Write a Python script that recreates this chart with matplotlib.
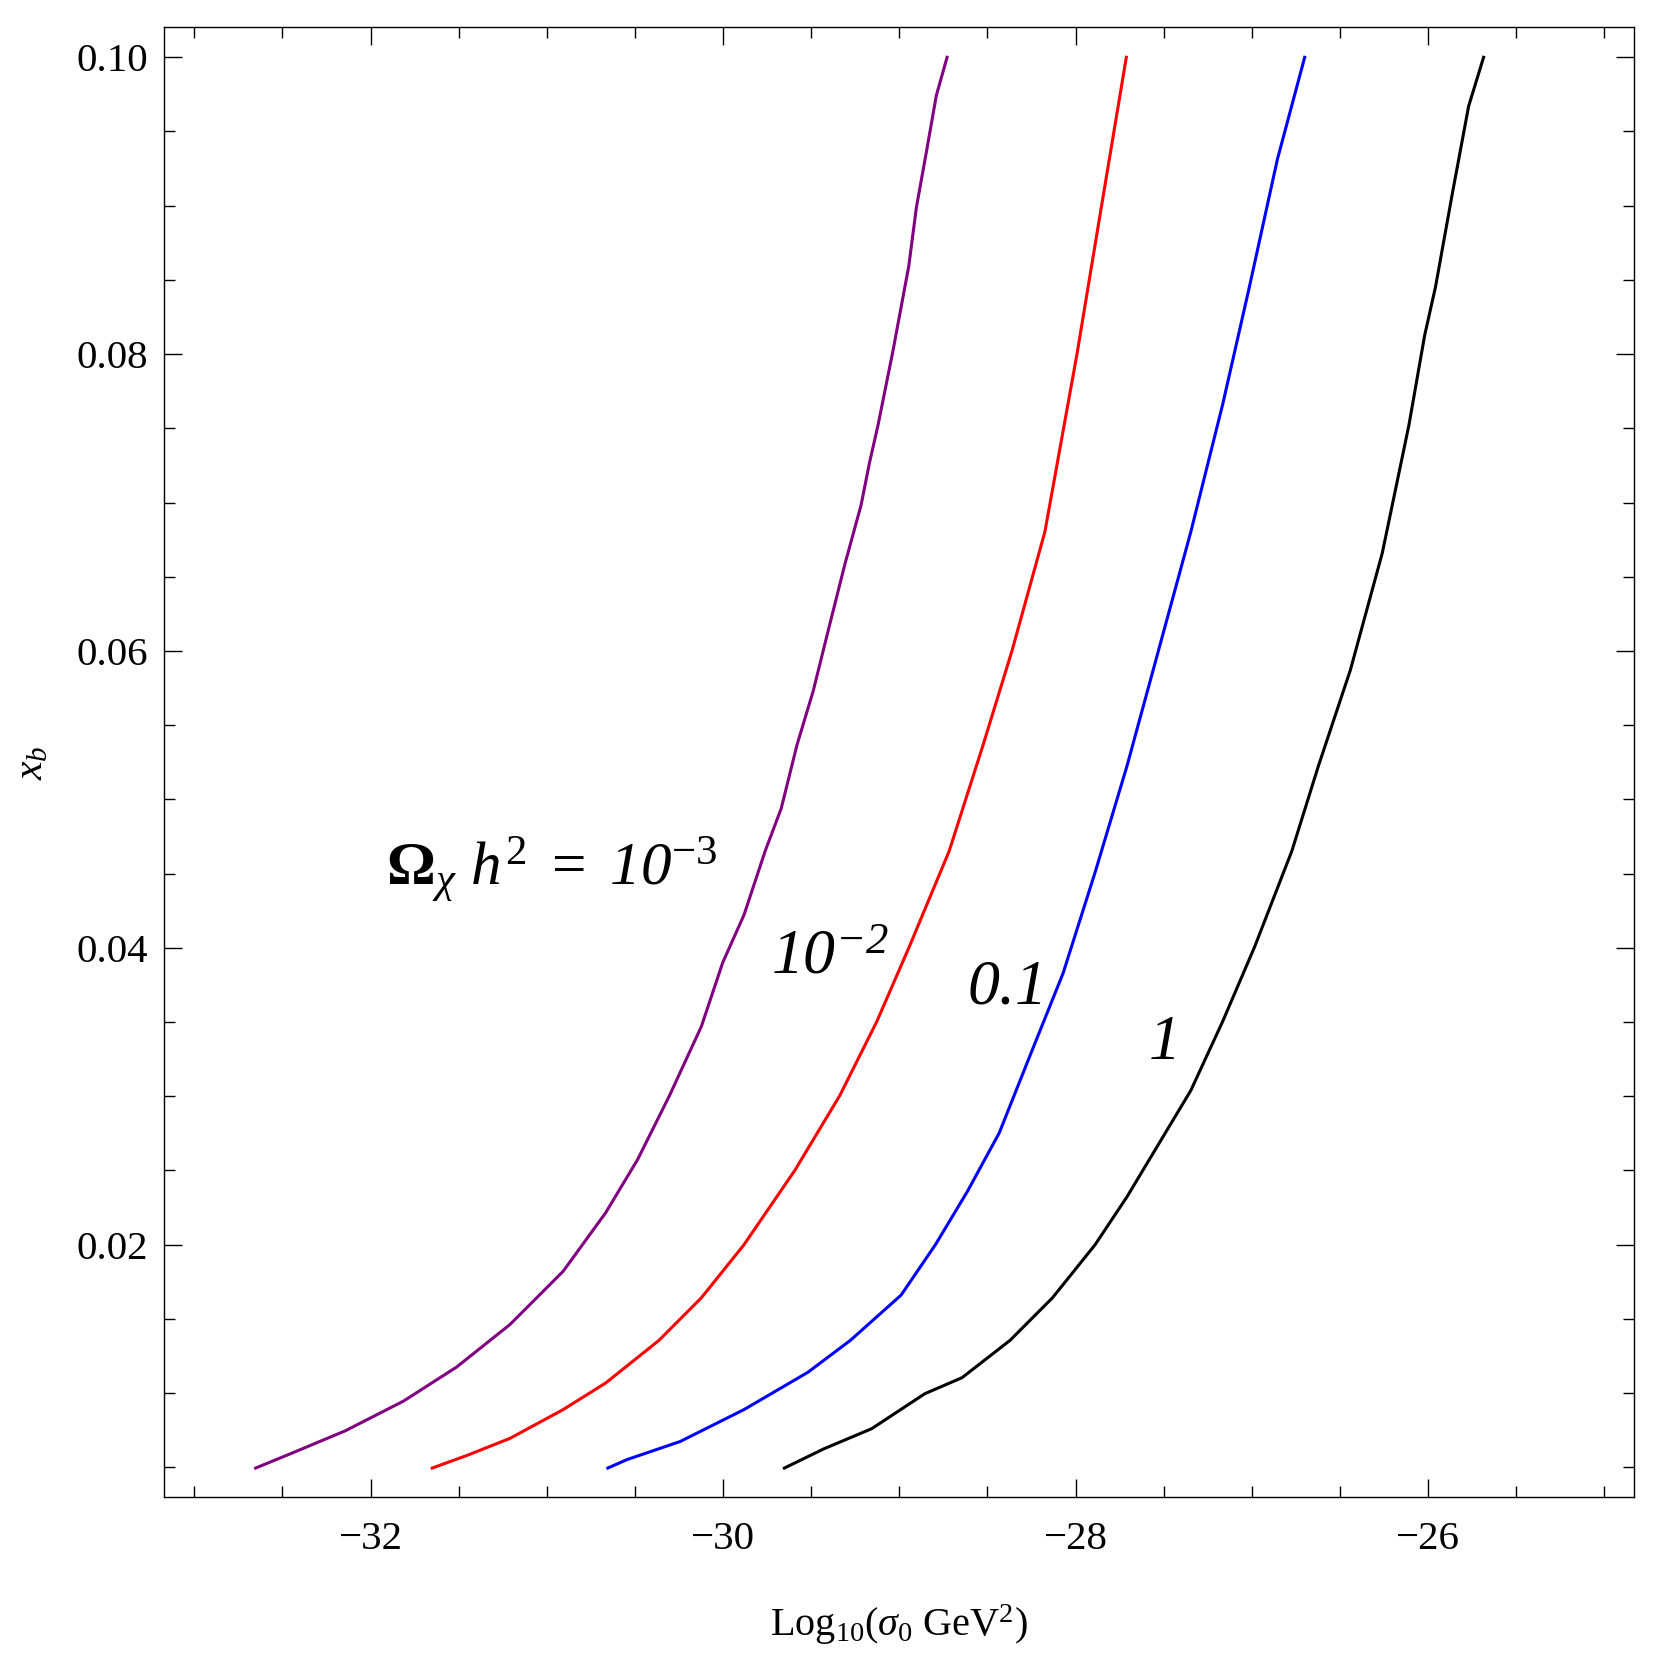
import matplotlib
matplotlib.use('Agg')
import matplotlib.pyplot as plt
from matplotlib.ticker import MultipleLocator, FormatStrFormatter

plt.rcParams['font.family'] = 'serif'
plt.rcParams['font.serif'] = ['Liberation Serif', 'DejaVu Serif']
plt.rcParams['mathtext.fontset'] = 'custom'
plt.rcParams['mathtext.rm'] = 'Liberation Serif'
plt.rcParams['mathtext.it'] = 'Liberation Serif:italic'
plt.rcParams['mathtext.bf'] = 'Liberation Serif:bold'
# \mathsf is used for italic digits (mathtext keeps digits upright in \mathit)
plt.rcParams['mathtext.sf'] = 'Liberation Serif:italic'
plt.rcParams['mathtext.fallback'] = 'stix'

# contour curves: log10(sigma0) vs x_b, one per Omega h^2 value
purple_x = [-32.652, -32.447, -32.145, -31.813, -31.511, -31.209, -30.907, -30.666, -30.485,
            -30.304, -30.123, -30.002, -29.881, -29.761, -29.670, -29.580, -29.489, -29.399,
            -29.308, -29.217, -29.169, -29.121, -29.036, -28.946, -28.903, -28.843, -28.790, -28.729]
purple_y = [0.00495, 0.00595, 0.00745, 0.00946, 0.01176, 0.01462, 0.01821, 0.02215, 0.02573,
            0.03004, 0.03470, 0.03900, 0.04222, 0.04652, 0.04939, 0.05369, 0.05728, 0.06158,
            0.06588, 0.06982, 0.07269, 0.07520, 0.08022, 0.08595, 0.08989, 0.09384, 0.09742, 0.10]

red_x = [-31.650, -31.451, -31.209, -30.907, -30.666, -30.364, -30.123, -29.881, -29.592, -29.338,
         -29.127, -28.946, -28.717, -28.524, -28.361, -28.174, -27.992, -27.859, -27.712]
red_y = [0.00495, 0.00581, 0.00695, 0.00889, 0.01068, 0.01355, 0.01642, 0.02000, 0.02502, 0.03004,
         0.03505, 0.04000, 0.04652, 0.05369, 0.06000, 0.06803, 0.08000, 0.08953, 0.10]

blue_x = [-30.654, -30.545, -30.243, -29.881, -29.519, -29.278, -28.990, -28.795, -28.614, -28.433,
          -28.253, -28.071, -27.889, -27.708, -27.527, -27.346, -27.165, -27.014, -26.855, -26.700]
blue_y = [0.00495, 0.00552, 0.00674, 0.00889, 0.01140, 0.01355, 0.01660, 0.02000, 0.02358, 0.02753,
          0.03290, 0.03828, 0.04509, 0.05226, 0.06014, 0.06803, 0.07663, 0.08452, 0.09312, 0.10]

black_x = [-29.652, -29.429, -29.157, -28.855, -28.644, -28.372, -28.131, -27.889, -27.708, -27.527,
           -27.346, -27.165, -26.984, -26.773, -26.622, -26.441, -26.260, -26.109, -26.019, -25.958,
           -25.860, -25.770, -25.685]
black_y = [0.00495, 0.00624, 0.00760, 0.00996, 0.01104, 0.01355, 0.01642, 0.02000, 0.02323, 0.02681,
           0.03039, 0.03505, 0.04007, 0.04652, 0.05226, 0.05871, 0.06659, 0.07520, 0.08129, 0.08452,
           0.09097, 0.09670, 0.10]

labels = [r'$\mathbf{\Omega}_{\chi}\ h^{2}\ =\ \mathsf{10}^{-3}$', r'$\mathsf{10}^{\mathsf{-2}}$',
          r'$\mathsf{0.1}$', r'$\mathsf{1}$']
label_x = [-31.915, -29.730, -28.614, -27.588]
label_y = [0.04423, 0.03828, 0.03627, 0.03254]
label_size = [44, 46, 46, 46]

fig = plt.figure(figsize=(16.64, 16.68), dpi=100)
ax = fig.add_axes([0.09874, 0.10234, 0.88341, 0.88129])

ax.plot(purple_x, purple_y, color='#800080', lw=2.2)
ax.plot(red_x, red_y, color='#ff0000', lw=2.2)
ax.plot(blue_x, blue_y, color='#0000ff', lw=2.2)
ax.plot(black_x, black_y, color='black', lw=2.2)

for t, x, y, fs in zip(labels, label_x, label_y, label_size):
    ax.text(x, y, t, fontsize=fs, ha='left', va='baseline')

ax.set_xlim(-33.170, -24.830)
ax.set_ylim(0.00298, 0.10202)
ax.xaxis.set_major_locator(MultipleLocator(2))
ax.xaxis.set_minor_locator(MultipleLocator(0.5))
ax.yaxis.set_major_locator(MultipleLocator(0.02))
ax.yaxis.set_minor_locator(MultipleLocator(0.005))
ax.yaxis.set_major_formatter(FormatStrFormatter('%.2f'))
ax.tick_params(which='both', direction='in', top=True, right=True, width=1.0, labelsize=29.5)
ax.tick_params(axis='x', pad=17)
ax.tick_params(axis='y', pad=12)
ax.tick_params(which='major', length=13)
ax.tick_params(which='minor', length=8)
for s in ax.spines.values():
    s.set_linewidth(1.0)

ax.set_xlabel(r'Log$_{10}$($\sigma_0$ GeV$^2$)', fontsize=29, labelpad=32)
ax.set_ylabel(r'$x_b$', fontsize=30, labelpad=18)

plt.savefig('out.png', dpi=100)
